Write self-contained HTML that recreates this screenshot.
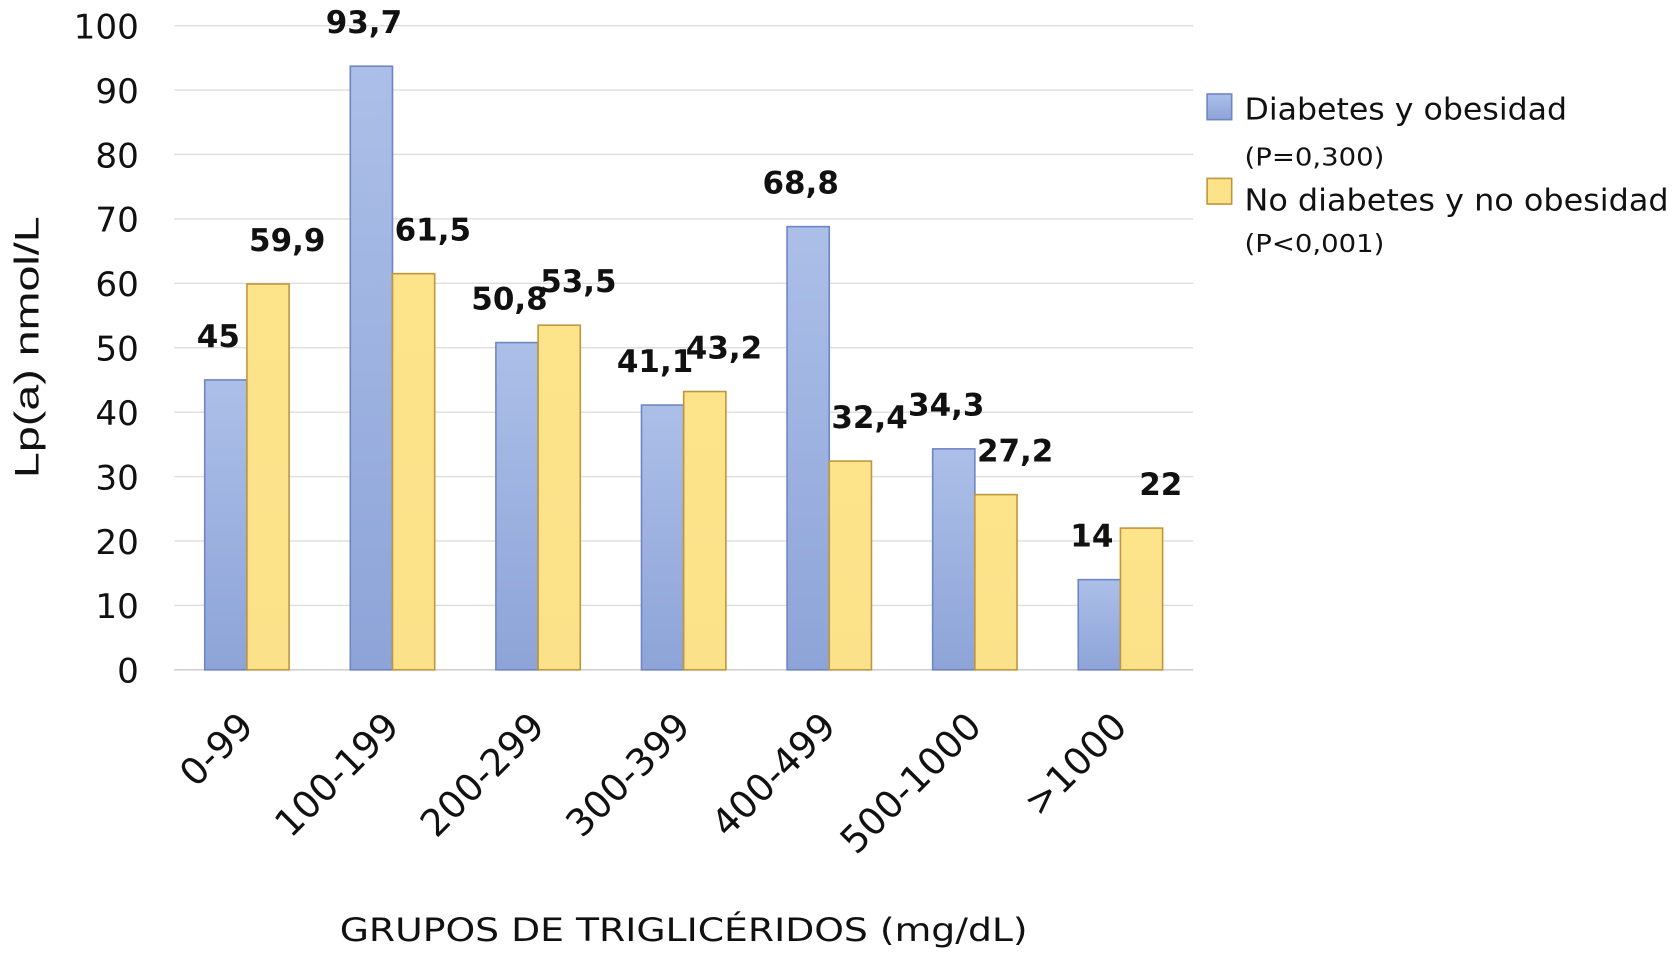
<!DOCTYPE html>
<html><head><meta charset="utf-8"><style>
html,body{margin:0;padding:0;background:#fff;}
svg{display:block;font-family:"DejaVu Sans","Liberation Sans",sans-serif;}
</style></head><body>
<svg id="chart" width="1675" height="954" viewBox="0 0 1568 893" preserveAspectRatio="none" xmlns="http://www.w3.org/2000/svg">
<defs>
<linearGradient id="gb" x1="0" y1="0" x2="0" y2="1"><stop offset="0" stop-color="#abbfe8"/><stop offset="1" stop-color="#8ea4d8"/></linearGradient>
<linearGradient id="gy" x1="0" y1="0" x2="0" y2="1"><stop offset="0" stop-color="#fde48a"/><stop offset="1" stop-color="#fbe189"/></linearGradient>
</defs>
<g id="grid"></g><g id="bars"></g><g id="labels"></g>
<text transform="translate(36,325) rotate(-90)" text-anchor="middle" font-family="Liberation Sans, sans-serif" font-size="32" textLength="245" lengthAdjust="spacingAndGlyphs" fill="#111">Lp(a) nmol/L</text>
<text x="640" y="881" text-anchor="middle" font-size="30" textLength="644" lengthAdjust="spacingAndGlyphs" fill="#111">GRUPOS DE TRIGLICÉRIDOS (mg/dL)</text>
<g>
<rect x="1130" y="88" width="23" height="24" fill="url(#gb)" stroke="#6f86c4" stroke-width="1.5"/>
<text x="1165" y="112" font-size="28" textLength="302" lengthAdjust="spacingAndGlyphs" fill="#111">Diabetes y obesidad</text>
<text x="1165" y="155" font-size="23" textLength="131" lengthAdjust="spacingAndGlyphs" fill="#111">(P=0,300)</text>
<rect x="1130" y="167" width="23" height="24" fill="url(#gy)" stroke="#c0963c" stroke-width="1.5"/>
<text x="1165" y="197" font-size="28" textLength="397" lengthAdjust="spacingAndGlyphs" fill="#111">No diabetes y no obesidad</text>
<text x="1165" y="236" font-size="23" textLength="131" lengthAdjust="spacingAndGlyphs" fill="#111">(P&lt;0,001)</text>
</g>
</svg>
<script>
const categories = ["0-99","100-199","200-299","300-399","400-499","500-1000",">1000"];
const seriesDiabetes = [45, 93.7, 50.8, 41.1, 68.8, 34.3, 14];
const seriesNoDiabetes = [59.9, 61.5, 53.5, 43.2, 32.4, 27.2, 22];
const labelsDiabetes = ["45","93,7","50,8","41,1","68,8","34,3","14"];
const labelsNoDiabetes = ["59,9","61,5","53,5","43,2","32,4","27,2","22"];
const yTicks = [0,10,20,30,40,50,60,70,80,90,100];

const NS="http://www.w3.org/2000/svg";
const X0=163, X1=1117, Y0=627, Y100=24;
const y = v => Y0 - (v/100)*(Y0-Y100);
const band = (X1-X0)/categories.length;
const xc = i => X0 + band*(i+0.5);
const bw = 39.5;
function mk(tag, attrs, parent, txt){const e=document.createElementNS(NS,tag);for(const k in attrs)e.setAttribute(k,attrs[k]);if(txt!==undefined)e.textContent=txt;parent.appendChild(e);return e;}
const grid=document.getElementById('grid'), bars=document.getElementById('bars'), labels=document.getElementById('labels');
yTicks.forEach(t=>{
  const l=mk('line',{x1:X0,x2:X1,y1:y(t),y2:y(t),stroke:t===0?'#c8c8c8':'#dedede','stroke-width':1.3},grid);
  
  
  const tx=mk('text',{x:130,y:y(t)+12,'text-anchor':'end','font-size':32,fill:'#111'},grid,String(t));
  
  
});
categories.forEach((c,i)=>{
  const cx=xc(i);
  const vb=seriesDiabetes[i], vy=seriesNoDiabetes[i];
  const b=mk('rect',{x:cx-bw,y:y(vb),width:bw,height:Y0-y(vb),fill:'url(#gb)',stroke:'#6f86c4','stroke-width':1.5},bars);
  
  
  const yb=mk('rect',{x:cx,y:y(vy),width:bw,height:Y0-y(vy),fill:'url(#gy)',stroke:'#c0963c','stroke-width':1.5},bars);
  
  
  const lb=mk('text',{x:cx-bw/2-7,y:y(vb)-31,'text-anchor':'middle','font-size':29,'font-weight':'bold',fill:'#111'},labels,labelsDiabetes[i]);
  
  
  const ly=mk('text',{x:cx+bw/2+18,y:y(vy)-31,'text-anchor':'middle','font-size':29,'font-weight':'bold',fill:'#111'},labels,labelsNoDiabetes[i]);
  
  
  const xl=mk('text',{transform:`translate(${cx+8},${Y0+55}) rotate(-45)`,'text-anchor':'end','font-size':35,fill:'#111'},labels,c);
  
  
});
</script>
</body></html>
